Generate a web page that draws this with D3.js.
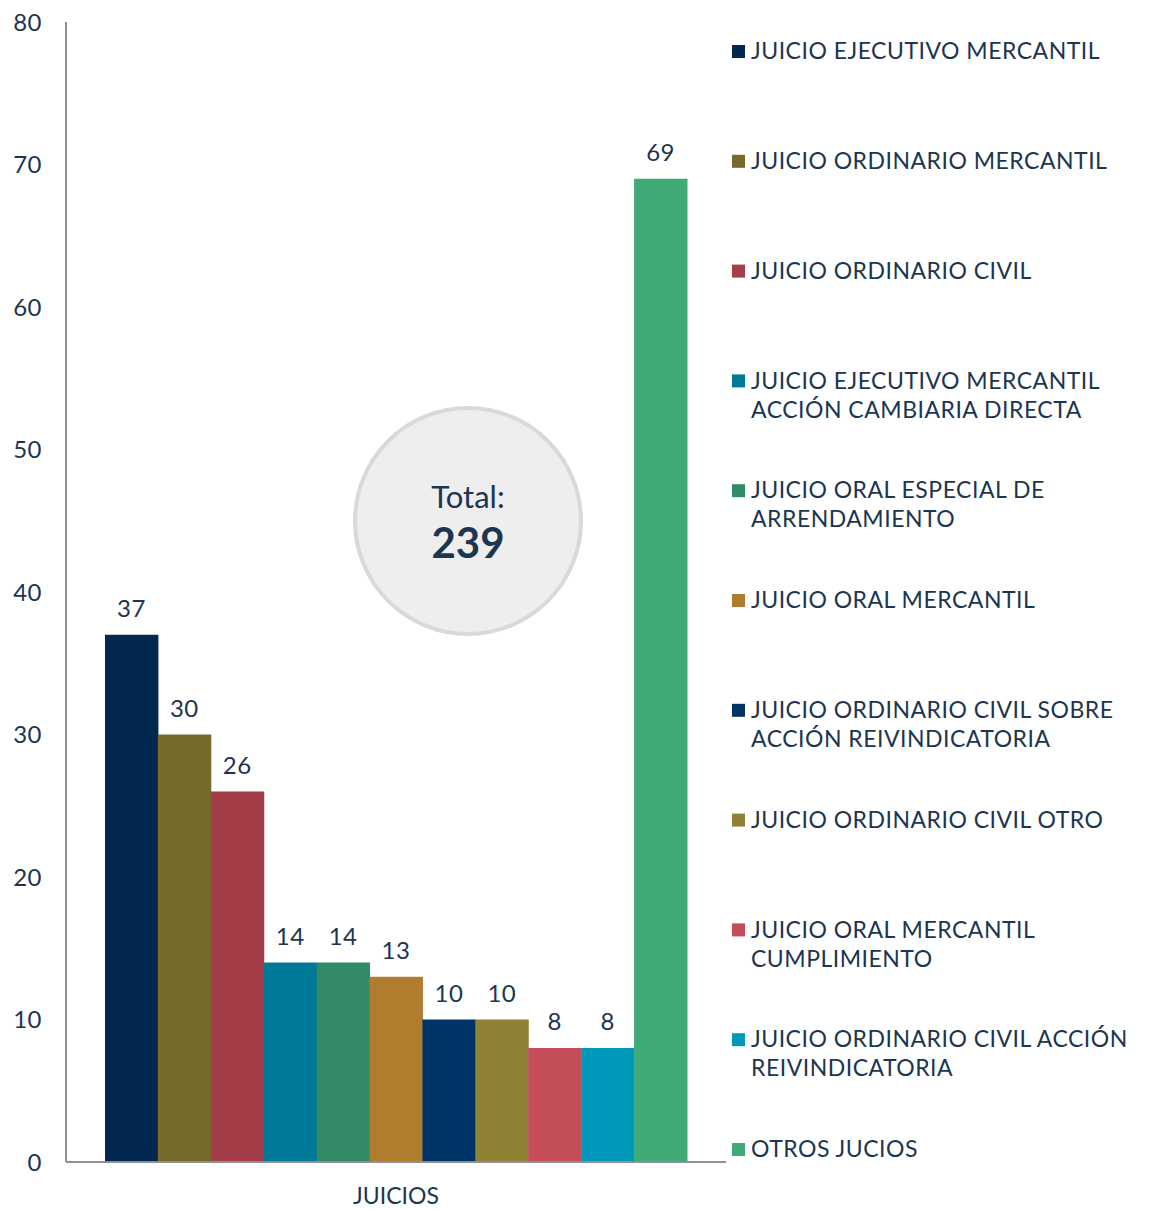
<!DOCTYPE html>
<html><head><meta charset="utf-8">
<script src="https://cdn.jsdelivr.net/npm/d3@7/dist/d3.min.js"></script>
<style>
body{margin:0;background:#fff;}
text{font-family:Lato,"Open Sans",sans-serif;fill:#1c3550;}
</style></head>
<body><svg id="c" width="1149" height="1209"></svg>
<script>
const categories = [
  "JUICIO EJECUTIVO MERCANTIL",
  "JUICIO ORDINARIO MERCANTIL",
  "JUICIO ORDINARIO CIVIL",
  "JUICIO EJECUTIVO MERCANTIL ACCIÓN CAMBIARIA DIRECTA",
  "JUICIO ORAL ESPECIAL DE ARRENDAMIENTO",
  "JUICIO ORAL MERCANTIL",
  "JUICIO ORDINARIO CIVIL SOBRE ACCIÓN REIVINDICATORIA",
  "JUICIO ORDINARIO CIVIL OTRO",
  "JUICIO ORAL MERCANTIL CUMPLIMIENTO",
  "JUICIO ORDINARIO CIVIL ACCIÓN REIVINDICATORIA",
  "OTROS JUCIOS"
];
const legendLines = [
  ["JUICIO EJECUTIVO MERCANTIL"],
  ["JUICIO ORDINARIO MERCANTIL"],
  ["JUICIO ORDINARIO CIVIL"],
  ["JUICIO EJECUTIVO MERCANTIL","ACCIÓN CAMBIARIA DIRECTA"],
  ["JUICIO ORAL ESPECIAL DE","ARRENDAMIENTO"],
  ["JUICIO ORAL MERCANTIL"],
  ["JUICIO ORDINARIO CIVIL SOBRE","ACCIÓN REIVINDICATORIA"],
  ["JUICIO ORDINARIO CIVIL OTRO"],
  ["JUICIO ORAL MERCANTIL","CUMPLIMIENTO"],
  ["JUICIO ORDINARIO CIVIL ACCIÓN","REIVINDICATORIA"],
  ["OTROS JUCIOS"]
];
const values = [37, 30, 26, 14, 14, 13, 10, 10, 8, 8, 69];
const colors = ["#03284f","#766b2a","#a33e48","#007a99","#338a66","#b07c2e","#003366","#8f8235","#c44d5a","#0099bb","#40aa77"];
const yTicks = [0,10,20,30,40,50,60,70,80];
const groupLabel = "JUICIOS";
const totalLabel = "Total:";
const totalValue = 239;

const svg = d3.select("#c");
const mLeft = 66, mRight = 726, mTop = 22, mBottom = 1162;

const y = d3.scaleLinear().domain([0,80]).range([mBottom, mTop]);
const xg = d3.scaleBand().domain([groupLabel]).range([mLeft, mRight]).paddingOuter(0.067).paddingInner(0);
const xb = d3.scaleBand().domain(d3.range(values.length)).range([xg(groupLabel), xg(groupLabel)+xg.bandwidth()]).padding(0);

// y tick labels
svg.append("g").selectAll("text").data(yTicks).join("text")
  .attr("x", 42).attr("y", d => y(d)).attr("dy","0.36em")
  .attr("text-anchor","end").attr("font-size", 24).attr("letter-spacing", 0.5).text(d => d);

// bars
svg.append("g").selectAll("rect").data(values).join("rect")
  .attr("x", (d,i) => xb(i)).attr("width", xb.bandwidth()+0.5)
  .attr("y", d => y(d)).attr("height", d => y(0) - y(d))
  .attr("fill", (d,i) => colors[i]);

// value labels
svg.append("g").selectAll("text").data(values).join("text")
  .attr("x", (d,i) => xb(i) + xb.bandwidth()/2).attr("y", d => y(d) - 18)
  .attr("text-anchor","middle").attr("font-size", 24).attr("letter-spacing", 0.5).text(d => d);

// axes lines
svg.append("line").attr("x1", mLeft).attr("x2", mLeft).attr("y1", mTop).attr("y2", mBottom)
  .attr("stroke","#8e9096").attr("stroke-width",2);
svg.append("line").attr("x1", mLeft).attr("x2", mRight).attr("y1", mBottom).attr("y2", mBottom)
  .attr("stroke","#8e9096").attr("stroke-width",2);

svg.append("text").attr("x", (mLeft+mRight)/2).attr("y", 1204)
  .attr("text-anchor","middle").attr("font-size", 23).text(groupLabel);

// total circle
const cx = 468, cy = 521;
svg.append("circle").attr("cx", cx).attr("cy", cy).attr("r", 113)
  .attr("fill","#eeeeee").attr("stroke","#d9d9d9").attr("stroke-width",4);
svg.append("text").attr("x", cx).attr("y", 508).attr("text-anchor","middle")
  .attr("font-size", 31).text(totalLabel);
svg.append("text").attr("x", cx).attr("y", 558).attr("text-anchor","middle")
  .attr("font-size", 42).attr("font-weight","bold").text(totalValue);

// legend
const lg = svg.append("g");
legendLines.forEach((lines, i) => {
  const yy = 51 + i*109.8;
  lg.append("rect").attr("x", 732).attr("y", yy-6).attr("width", 13).attr("height", 13).attr("fill", colors[i]);
  lines.forEach((t, j) => {
    lg.append("text").attr("x", 751).attr("y", yy + j*29).attr("dy","0.36em")
      .attr("font-size", 23).attr("letter-spacing", 0.5).text(t);
  });
});
</script></body></html>
